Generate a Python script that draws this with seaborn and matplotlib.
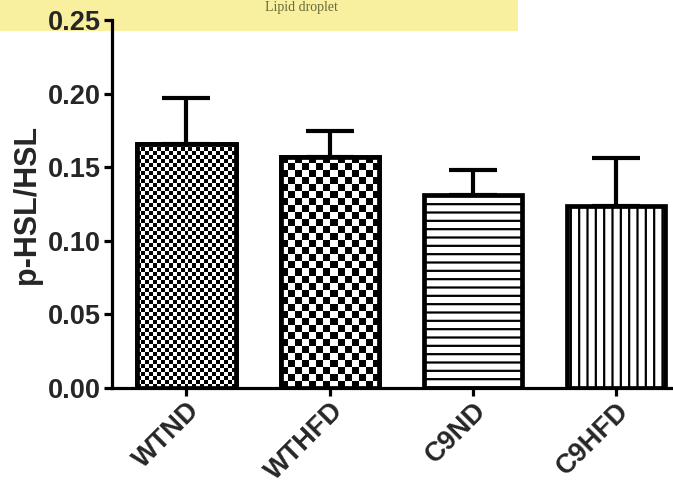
import numpy as np
import matplotlib
matplotlib.use("Agg")
import matplotlib.pyplot as plt
from matplotlib.patches import Rectangle
import seaborn as sns

groups = ["WTND", "WTHFD", "C9ND", "C9HFD"]
means = [0.166, 0.157, 0.131, 0.124]
errs = [0.031, 0.018, 0.017, 0.032]
yticks = [0.00, 0.05, 0.10, 0.15, 0.20, 0.25]
ylabel = "p-HSL/HSL"

sns.set_theme(style="ticks")
plt.rcParams["font.family"] = ["Liberation Sans", "DejaVu Sans"]
plt.rcParams["font.weight"] = "bold"
plt.rcParams["hatch.linewidth"] = 1.6

fig = plt.figure(figsize=(6.73, 4.90), dpi=100)
# yellow strip (cropped neighbouring panel)
fig.patches.append(Rectangle((0, 1 - 31 / 490), 518 / 673, 31 / 490,
                             transform=fig.transFigure, facecolor="#F8F09E",
                             edgecolor="none", zorder=-5))
fig.text(265 / 673, 1.0 - 1 / 490, "Lipid droplet", family="Liberation Serif",
         fontsize=10, color="#6a6a3c", ha="left", va="top", weight="normal", zorder=-4)

ax = fig.add_axes([112 / 673, 102 / 490, 578.5 / 673, 368 / 490])
ax.set_facecolor("none")

sns.barplot(x=groups, y=means, color="white", saturation=1, edgecolor="black",
            linewidth=3.4, width=0.685, ax=ax, zorder=3, errorbar=None)
xs = np.arange(len(groups))
ax.errorbar(xs, means, yerr=[np.zeros(len(errs)), errs], fmt="none",
            ecolor="black", elinewidth=3.0, capsize=17, capthick=3.0, zorder=2)

ax.set_xlim(-0.52, 3.52)
ax.set_ylim(0, 0.2501)
ax.set_yticks(yticks)
ax.set_yticklabels([f"{v:.2f}" for v in yticks])
ax.set_ylabel(ylabel, fontsize=22, weight="bold", labelpad=4)
ax.set_xlabel("")

fig.canvas.draw()
patches = list(ax.patches)
hatches = [None, None, "--", "||"]
cells = [4, 7]
for i, p in enumerate(patches):
    if hatches[i]:
        p.set_hatch(hatches[i])
    else:
        bb = p.get_window_extent()
        nx = max(1, int(round(bb.width / cells[i])))
        ny = max(1, int(round(bb.height / cells[i])))
        board = (np.indices((ny, nx)).sum(axis=0) % 2).astype(float)
        x0, y0 = p.get_xy()
        im = ax.imshow(board, cmap="gray", extent=[x0, x0 + p.get_width(), y0, y0 + p.get_height()],
                       aspect="auto", interpolation="nearest", zorder=3.1, origin="lower")
        im.set_clip_path(p)
        ax.add_patch(Rectangle(p.get_xy(), p.get_width(), p.get_height(), fill=False,
                               edgecolor="black", linewidth=3.4, zorder=3.2))
ax.set_xlim(-0.52, 3.52)
ax.set_ylim(0, 0.2501)

for s in ["top", "right"]:
    ax.spines[s].set_visible(False)
for s in ["left", "bottom"]:
    ax.spines[s].set_linewidth(2.3)
    ax.spines[s].set_color("black")
ax.tick_params(axis="both", width=2.3, length=6, color="black", pad=2)
ax.tick_params(axis="y", labelsize=19.5)
ax.tick_params(axis="x", labelsize=19.5, pad=1)
for lab in ax.get_xticklabels():
    lab.set_rotation(45)
    lab.set_ha("right")
    lab.set_rotation_mode("anchor")
    lab.set_fontweight("bold")
for lab in ax.get_yticklabels():
    lab.set_fontweight("bold")

fig.savefig("out.png", dpi=100)
